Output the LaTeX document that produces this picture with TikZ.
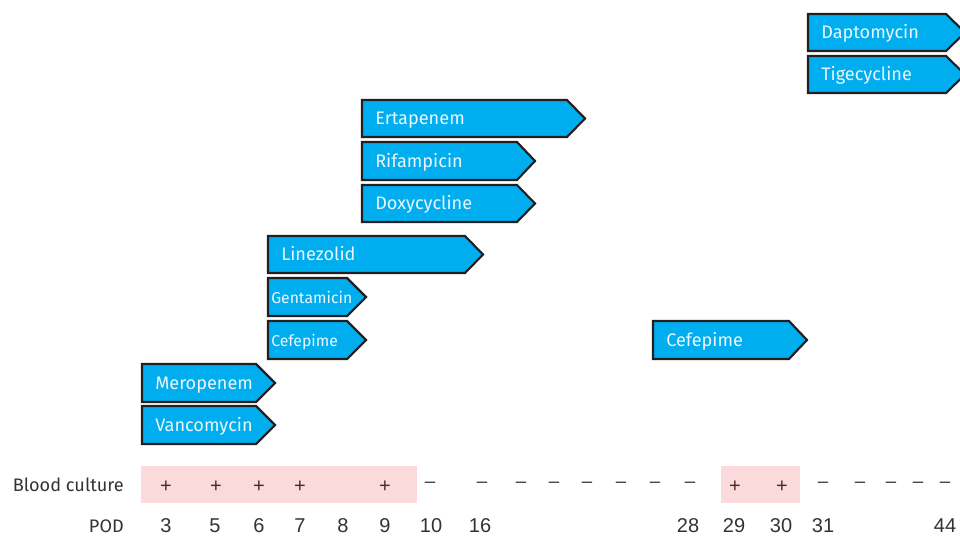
\documentclass[tikz,border=0pt]{standalone}
\usepackage{fontspec}
\setmainfont{Fira Sans}
\newfontfamily\numfont{Liberation Sans}
\definecolor{drugblue}{HTML}{00AEEF}
\definecolor{edgedark}{HTML}{231F20}
\definecolor{drugtext}{HTML}{EAF6FC}
\definecolor{posfill}{HTML}{FADADA}
\definecolor{plusdark}{HTML}{4A2A2A}
\definecolor{labgray}{HTML}{333333}
\newcommand{\drugarrow}[8]{%
  % #1 name, #2 left, #3 top, #4 bottom, #5 rect end, #6 tip, #7 text, #8 label style
  \draw[arrowbox] (#2,#3) -- (#5,#3) -- (#6,{(#3+#4)/2}) -- (#5,#4) -- (#2,#4) -- cycle;
  \node[#8] (#1) at (#2,{(#3+#4)/2+6.3}) {#7};
}
\tikzset{
  arrowbox/.style={fill=drugblue, draw=edgedark, line width=1.6pt, line join=miter},
  biglab/.style={anchor=base west, text=drugtext, font=\fontsize{13.6}{15}\selectfont, inner sep=0pt, xshift=13*0.75pt},
  smalllab/.style={anchor=base west, text=drugtext, font=\fontsize{11.8}{13}\selectfont, inner sep=0pt, xshift=3*0.75pt},
  rowlab/.style={anchor=base east, text=labgray, font=\fontsize{13.6}{15}\selectfont, inner sep=0pt},
  plusmark/.style={text=plusdark, font=\numfont\fontsize{15}{17}\selectfont, inner sep=0pt},
  minusmark/.style={text=labgray, font=\numfont\fontsize{14}{16}\selectfont, inner sep=0pt},
  podnum/.style={anchor=base, text=labgray, font=\numfont\fontsize{15}{17}\selectfont, inner sep=0pt},
}
\begin{document}
\begin{tikzpicture}[x=0.75pt,y=-0.75pt]
\useasboundingbox (0,0) rectangle (960,536);
% drug arrows
\drugarrow{dapto}{808}{14}{51}{946}{965}{Daptomycin}{biglab}
\drugarrow{tige}{808}{56}{93}{946}{965}{Tigecycline}{biglab}
\drugarrow{erta}{362}{100}{137}{567}{585}{Ertapenem}{biglab}
\drugarrow{rifa}{362}{142}{180}{517}{535}{Rifampicin}{biglab}
\drugarrow{doxy}{362}{185}{222}{517}{535}{Doxycycline}{biglab}
\drugarrow{line}{268}{236}{273}{465}{483}{Linezolid}{biglab}
\drugarrow{gent}{268}{278}{316}{347}{366}{Gentamicin}{smalllab}
\drugarrow{cefa}{268}{321}{359}{347}{366}{Cefepime}{smalllab}
\drugarrow{mero}{142}{364}{402}{256}{275}{Meropenem}{biglab}
\drugarrow{vanc}{142}{406}{444}{256}{275}{Vancomycin}{biglab}
\drugarrow{cefb}{653}{321}{359}{789}{807}{Cefepime}{biglab}
% positive culture shading
\fill[posfill] (141,466) rectangle (417,503);
\fill[posfill] (721,466) rectangle (800,503);
% row labels
\node[rowlab] (bclab) at (124,491) {Blood culture};
\node[rowlab] (podlab) at (124,532) {POD};
% plus signs
\foreach \x [count=\i] in {166,216,259,300,385,735,782}
  \node[plusmark] (p\i) at (\x,487) {+};
% minus signs
\foreach \x [count=\i] in {430,482,521,554,587,621,655,690,823,860,891,918,945}
  \node[minusmark] (m\i) at (\x,485) {–};
% POD numbers
\foreach \x/\n in {166/3,215/5,259/6,300/7,343/8,385/9,431/10,480/16,688/28,734/29,781/30,823/31,945/44}
  \node[podnum] (d\n) at (\x,532) {\n};
\end{tikzpicture}
\end{document}
